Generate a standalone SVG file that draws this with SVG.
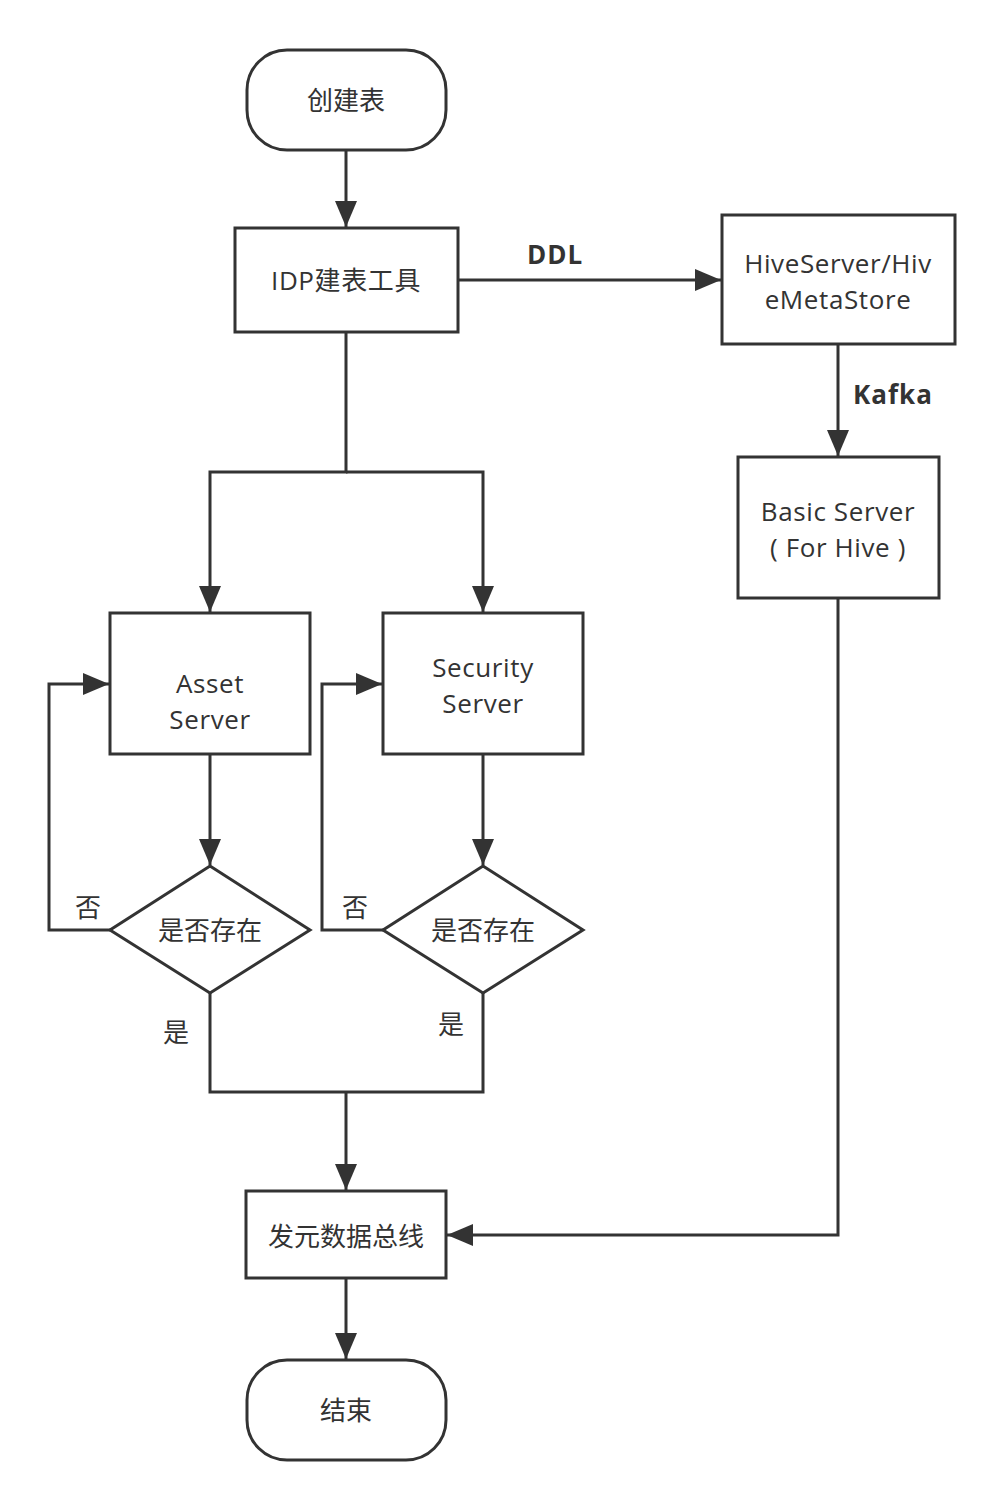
<svg xmlns="http://www.w3.org/2000/svg" width="1005" height="1510" viewBox="0 0 1005 1510">
<style>
.n{fill:#fff;stroke:#333;stroke-width:3}
.c{fill:none;stroke:#333;stroke-width:3}
.t{font-family:"Open Sans","Noto Sans CJK SC",sans-serif;font-size:26px;fill:#333;text-anchor:middle;dominant-baseline:central}
.l{letter-spacing:0.6px}
.b{font-family:"Open Sans","Noto Sans CJK SC",sans-serif;font-size:26px;font-weight:bold;fill:#333;text-anchor:middle;dominant-baseline:central;letter-spacing:1px}
</style>
<defs>
<marker id="a" markerUnits="userSpaceOnUse" markerWidth="28" markerHeight="24" refX="26" refY="11" orient="auto">
<path d="M0,0 L26,11 L0,22 Z" fill="#333"/>
</marker>
</defs>
<rect width="1005" height="1510" fill="#fff"/>
<g id="connectors">
<path class="c" d="M346,150 V227" marker-end="url(#a)"/>
<path class="c" d="M458,280 H721" marker-end="url(#a)"/>
<path class="c" d="M838,344 V456" marker-end="url(#a)"/>
<path class="c" d="M346,332 V472 H210 V612" marker-end="url(#a)"/>
<path class="c" d="M346,472 H483 V612" marker-end="url(#a)"/>
<path class="c" d="M210,754 V865" marker-end="url(#a)"/>
<path class="c" d="M483,754 V865" marker-end="url(#a)"/>
<path class="c" d="M110,930 H49 V684 H109" marker-end="url(#a)"/>
<path class="c" d="M383,930 H322 V684 H382" marker-end="url(#a)"/>
<path class="c" d="M210,993 V1092 H483 V993"/>
<path class="c" d="M346,1092 V1190" marker-end="url(#a)"/>
<path class="c" d="M838,598 V1235 H447" marker-end="url(#a)"/>
<path class="c" d="M346,1278 V1359" marker-end="url(#a)"/>
<text class="b" x="555" y="254">DDL</text>
<text class="b" x="893" y="394">Kafka</text>
<text class="t" x="88" y="907">否</text>
<text class="t" x="355" y="907">否</text>
<text class="t" x="176" y="1032">是</text>
<text class="t" x="451" y="1024">是</text>
</g>
<g id="start">
<rect class="n" x="247" y="50" width="199" height="100" rx="40" ry="40"/>
<text class="t" x="346" y="100">创建表</text>
</g>
<g id="idp">
<rect class="n" x="235" y="228" width="223" height="104"/>
<text class="t l" x="346" y="280">IDP建表工具</text>
</g>
<g id="hive">
<rect class="n" x="722" y="215" width="233" height="129"/>
<text class="t l"><tspan x="838" y="263">HiveServer/Hiv</tspan><tspan x="838" y="299">eMetaStore</tspan></text>
</g>
<g id="basic">
<rect class="n" x="738" y="457" width="201" height="141"/>
<text class="t l"><tspan x="838" y="511">Basic Server</tspan><tspan x="838" y="547">( For Hive )</tspan></text>
</g>
<g id="asset">
<rect class="n" x="110" y="613" width="200" height="141"/>
<text class="t l"><tspan x="210" y="683">Asset</tspan><tspan x="210" y="719">Server</tspan></text>
</g>
<g id="security">
<rect class="n" x="383" y="613" width="200" height="141"/>
<text class="t l"><tspan x="483" y="667">Security</tspan><tspan x="483" y="703">Server</tspan></text>
</g>
<g id="asset-check">
<path class="n" d="M210,866 L310,930 L210,993 L110,930 Z"/>
<text class="t" x="210" y="930">是否存在</text>
</g>
<g id="security-check">
<path class="n" d="M483,866 L583,930 L483,993 L383,930 Z"/>
<text class="t" x="483" y="930">是否存在</text>
</g>
<g id="bus">
<rect class="n" x="246" y="1191" width="200" height="87"/>
<text class="t" x="346" y="1236">发元数据总线</text>
</g>
<g id="end">
<rect class="n" x="247" y="1360" width="199" height="100" rx="40" ry="40"/>
<text class="t" x="346" y="1410">结束</text>
</g>
</svg>
